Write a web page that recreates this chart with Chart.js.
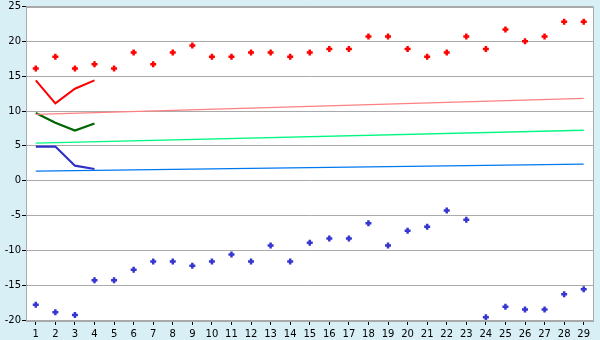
<!DOCTYPE html>
<html>
<head>
<meta charset="utf-8">
<script src="https://cdn.jsdelivr.net/npm/chart.js@4/dist/chart.umd.min.js"></script>
<style>
  html, body { margin: 0; padding: 0; background: #d9eff6; }
  #wrap { width: 600px; height: 340px; }
</style>
</head>
<body>
<div id="wrap"><canvas id="c" width="600" height="340"></canvas></div>
<script>
const categories = Array.from({length: 29}, (_, i) => String(i + 1));

const redPoints = [16.1, 17.8, 16.1, 16.7, 16.1, 18.4, 16.7, 18.4, 19.4, 17.8,
                   17.8, 18.4, 18.4, 17.8, 18.4, 18.9, 18.9, 20.7, 20.7, 18.9,
                   17.8, 18.4, 20.7, 18.9, 21.7, 20.0, 20.7, 22.8, 22.8];
const bluePoints = [-17.8, -18.9, -19.3, -14.3, -14.3, -12.8, -11.6, -11.6, -12.2, -11.6,
                    -10.6, -11.6, -9.3, -11.6, -8.9, -8.3, -8.3, -6.1, -9.3, -7.2,
                    -6.6, -4.3, -5.6, -19.6, -18.1, -18.5, -18.5, -16.3, -15.6];

const redShort   = [14.4, 11.1, 13.2, 14.4];
const greenShort = [9.7, 8.3, 7.2, 8.2];
const blueShort  = [4.9, 4.9, 2.15, 1.67];

// trend lines: values at first and last category only
const pinkTrendEnds  = [9.52, 11.81];
const greenTrendEnds = [5.38, 7.24];
const blueTrendEnds  = [1.38, 2.38];

const yTicks = { min: -20, max: 25, step: 5 };

function ends(pair) {
  return categories.map((_, i) => i === 0 ? pair[0] : (i === categories.length - 1 ? pair[1] : null));
}

const plotBg = {
  id: 'plotBg',
  beforeDraw(chart) {
    const {ctx, chartArea: a} = chart;
    ctx.save();
    ctx.fillStyle = '#ffffff';
    ctx.fillRect(a.left, a.top, a.right - a.left, a.bottom - a.top);
    ctx.restore();
  },
  beforeDatasetsDraw(chart) {
    const {ctx, chartArea: a} = chart;
    ctx.save();
    ctx.strokeStyle = '#aaaaaa';
    ctx.lineWidth = 1;
    ctx.strokeRect(Math.round(a.left) + 0.5, Math.round(a.top) + 0.5,
                   Math.round(a.right - a.left) - 1, Math.round(a.bottom - a.top));
    ctx.restore();
  }
};

const font = { family: 'DejaVu Sans', size: 10, lineHeight: 1 };

new Chart(document.getElementById('c'), {
  type: 'line',
  data: {
    labels: categories,
    datasets: [
      { data: ends(pinkTrendEnds), borderColor: '#ff8080', borderWidth: 1.3, pointRadius: 0, spanGaps: true },
      { data: ends(greenTrendEnds), borderColor: '#00f880', borderWidth: 1.3, pointRadius: 0, spanGaps: true },
      { data: ends(blueTrendEnds), borderColor: '#0078f0', borderWidth: 1.3, pointRadius: 0, spanGaps: true },
      { data: redShort, borderColor: '#ff0000', borderWidth: 2, pointRadius: 0 },
      { data: greenShort, borderColor: '#006400', borderWidth: 2.2, pointRadius: 0 },
      { data: blueShort, borderColor: '#3030c8', borderWidth: 2.2, pointRadius: 0 },
      { data: redPoints, showLine: false, pointStyle: 'cross', pointRadius: 3, pointBorderWidth: 2.5,
        pointBorderColor: '#ff0000', pointBackgroundColor: '#ff0000' },
      { data: bluePoints, showLine: false, pointStyle: 'cross', pointRadius: 3, pointBorderWidth: 2.5,
        pointBorderColor: '#3535d0', pointBackgroundColor: '#3535d0' }
    ]
  },
  options: {
    responsive: false,
    animation: false,
    events: [],
    layout: { padding: { left: 0, right: 5, top: 5, bottom: 0 } },
    plugins: { legend: { display: false }, tooltip: { enabled: false } },
    scales: {
      x: {
        type: 'category',
        offset: true,
        grid: { offset: false, drawOnChartArea: false, drawTicks: true, tickLength: 5, tickColor: '#000000' },
        border: { color: '#aaaaaa' },
        ticks: { font, color: '#000000', padding: 4, maxRotation: 0, autoSkip: false },
        afterFit(s) { s.height = 20; }
      },
      y: {
        min: yTicks.min, max: yTicks.max,
        grid: { color: '#aaaaaa', tickLength: 4, tickColor: '#000000' },
        border: { color: '#aaaaaa' },
        ticks: { stepSize: yTicks.step, font, color: '#000000', padding: 1 },
        afterFit(s) { s.width = 26; }
      }
    }
  },
  plugins: [plotBg]
});
</script>
</body>
</html>
